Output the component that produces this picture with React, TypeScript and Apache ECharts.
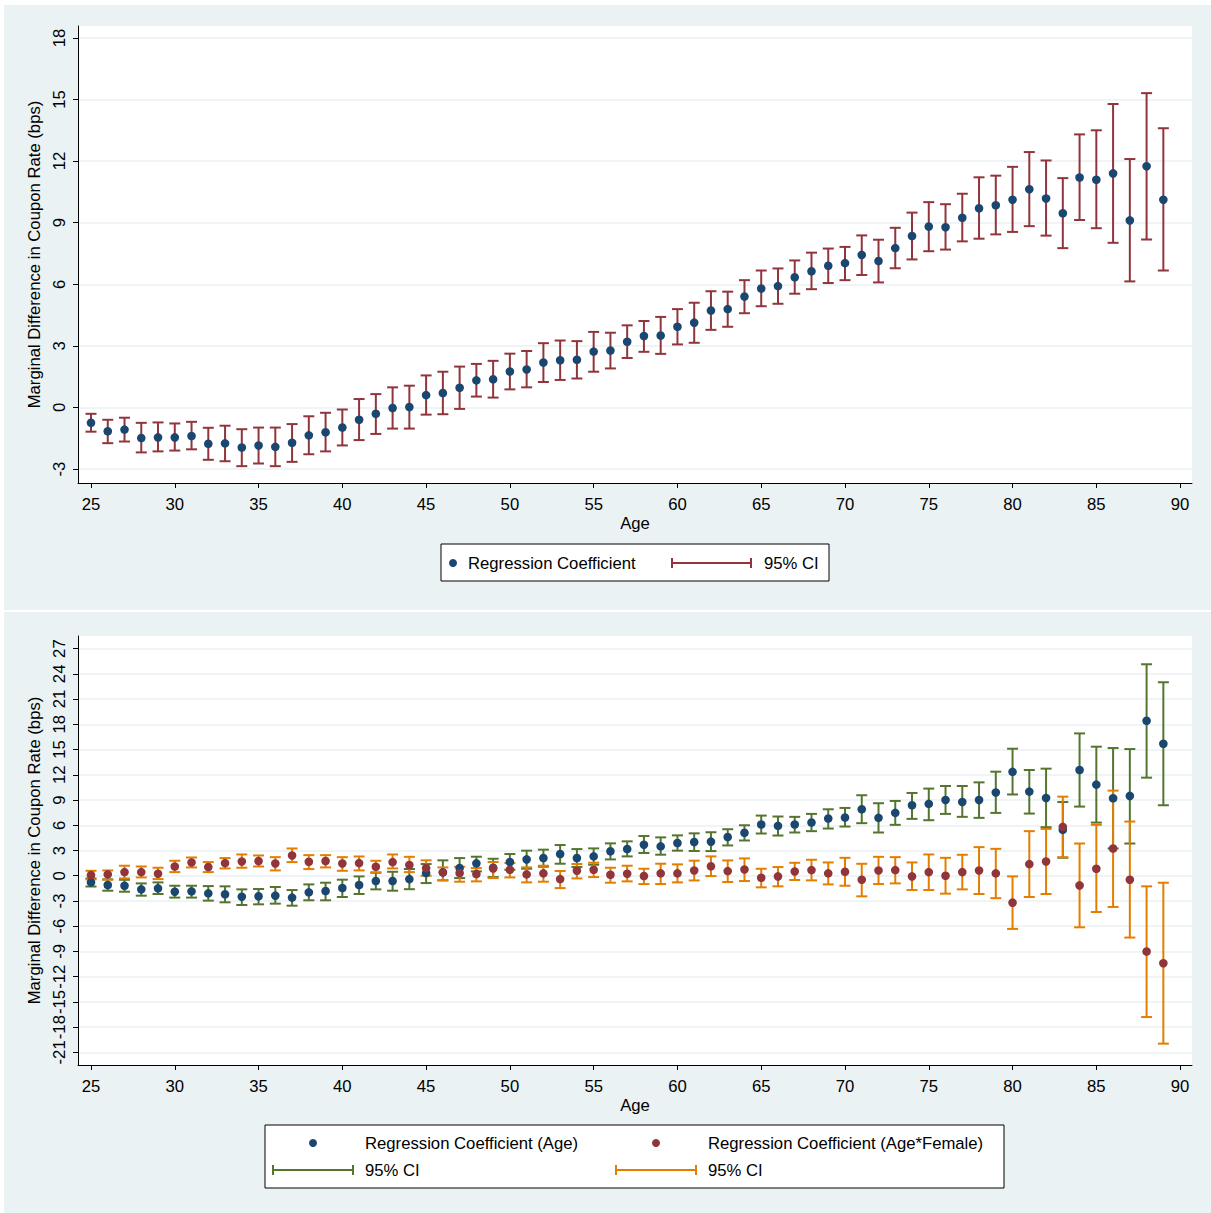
import React, { useEffect, useRef } from "react";
import * as echarts from "echarts";

// ---------- data ----------
const ages = [25, 26, 27, 28, 29, 30, 31, 32, 33, 34, 35, 36, 37, 38, 39, 40, 41, 42, 43, 44, 45, 46, 47, 48, 49, 50, 51, 52, 53, 54, 55, 56, 57, 58, 59, 60, 61, 62, 63, 64, 65, 66, 67, 68, 69, 70, 71, 72, 73, 74, 75, 76, 77, 78, 79, 80, 81, 82, 83, 84, 85, 86, 87, 88, 89];

// Top panel: Regression Coefficient and 95% CI
const topCoef = [-0.75, -1.16, -1.08, -1.49, -1.46, -1.46, -1.39, -1.77, -1.75, -1.95, -1.85, -1.92, -1.72, -1.36, -1.21, -0.98, -0.6, -0.31, -0.03, 0.02, 0.6, 0.7, 0.96, 1.32, 1.37, 1.75, 1.85, 2.19, 2.3, 2.32, 2.72, 2.77, 3.2, 3.48, 3.5, 3.93, 4.13, 4.72, 4.79, 5.4, 5.79, 5.91, 6.34, 6.63, 6.9, 7.03, 7.43, 7.13, 7.76, 8.35, 8.81, 8.78, 9.24, 9.7, 9.85, 10.12, 10.63, 10.18, 9.46, 11.2, 11.09, 11.4, 9.11, 11.75, 10.12];
const topHi = [-0.31, -0.6, -0.5, -0.75, -0.73, -0.78, -0.7, -0.99, -0.89, -1.06, -0.98, -0.98, -0.81, -0.43, -0.26, -0.1, 0.41, 0.65, 0.98, 1.06, 1.56, 1.74, 1.99, 2.12, 2.27, 2.62, 2.75, 3.13, 3.26, 3.23, 3.68, 3.64, 4.0, 4.21, 4.41, 4.79, 5.1, 5.66, 5.64, 6.2, 6.67, 6.77, 7.16, 7.54, 7.74, 7.82, 8.38, 8.17, 8.75, 9.49, 10.0, 9.9, 10.41, 11.21, 11.29, 11.72, 12.44, 12.03, 11.17, 13.3, 13.5, 14.78, 12.1, 15.31, 13.6];
const topLo = [-1.18, -1.74, -1.66, -2.19, -2.14, -2.1, -2.04, -2.55, -2.62, -2.86, -2.73, -2.86, -2.65, -2.28, -2.14, -1.85, -1.59, -1.29, -1.03, -1.03, -0.35, -0.33, -0.07, 0.53, 0.48, 0.88, 0.98, 1.24, 1.34, 1.41, 1.74, 1.9, 2.41, 2.71, 2.61, 3.07, 3.15, 3.78, 3.93, 4.59, 4.93, 5.05, 5.54, 5.76, 6.06, 6.2, 6.45, 6.09, 6.78, 7.21, 7.61, 7.69, 8.09, 8.22, 8.43, 8.55, 8.83, 8.37, 7.76, 9.13, 8.73, 8.02, 6.14, 8.18, 6.67];

// Bottom panel: Age
const ageCoef = [-0.79, -1.1, -1.19, -1.62, -1.5, -1.9, -1.86, -2.1, -2.21, -2.49, -2.45, -2.37, -2.6, -1.98, -1.82, -1.46, -1.1, -0.63, -0.63, -0.4, 0.32, 0.4, 0.91, 1.47, 0.95, 1.63, 1.94, 2.1, 2.58, 2.1, 2.3, 2.9, 3.17, 3.69, 3.49, 3.89, 4.0, 4.05, 4.6, 5.1, 6.09, 5.93, 6.09, 6.32, 6.8, 6.92, 7.9, 6.88, 7.47, 8.38, 8.54, 9.01, 8.77, 9.01, 9.9, 12.35, 10.0, 9.25, 5.45, 12.57, 10.83, 9.21, 9.49, 18.42, 15.69];
const ageHi = [-0.32, -0.43, -0.48, -0.91, -0.79, -1.19, -1.19, -1.23, -1.26, -1.62, -1.58, -1.34, -1.7, -1.03, -0.83, -0.47, -0.08, 0.36, 0.47, 0.8, 1.39, 1.83, 2.1, 2.26, 2.02, 2.58, 2.98, 3.1, 3.65, 3.17, 3.25, 3.85, 4.09, 4.72, 4.56, 4.8, 5.04, 5.17, 5.53, 6.0, 7.15, 7.04, 7.0, 7.35, 7.9, 8.06, 9.57, 8.62, 8.89, 9.84, 10.36, 10.67, 10.67, 11.1, 12.37, 15.1, 12.57, 12.73, 8.76, 16.92, 15.34, 15.18, 15.06, 25.14, 23.0];
const ageLo = [-1.28, -1.78, -1.9, -2.37, -2.17, -2.6, -2.6, -2.96, -3.16, -3.48, -3.4, -3.32, -3.56, -2.92, -2.92, -2.53, -2.17, -1.62, -1.78, -1.6, -0.87, -0.56, -0.28, 0.52, -0.16, 0.71, 0.83, 1.07, 1.43, 1.03, 1.31, 1.94, 2.3, 2.7, 2.5, 2.98, 2.94, 2.93, 3.6, 4.19, 5.02, 4.78, 5.14, 5.3, 5.61, 5.85, 6.25, 5.14, 6.05, 6.76, 6.6, 7.35, 7.0, 6.88, 7.47, 9.66, 7.39, 5.77, 2.14, 8.22, 6.32, 3.24, 3.83, 11.66, 8.38];

// Bottom panel: Age*Female
const femCoef = [0.08, 0.16, 0.43, 0.43, 0.24, 1.1, 1.58, 1.03, 1.5, 1.7, 1.74, 1.46, 2.41, 1.66, 1.74, 1.46, 1.5, 1.07, 1.62, 1.28, 0.91, 0.4, 0.32, 0.2, 0.87, 0.71, 0.16, 0.28, -0.4, 0.6, 0.71, 0.12, 0.24, -0.04, 0.28, 0.28, 0.63, 1.12, 0.55, 0.75, -0.24, -0.08, 0.51, 0.67, 0.28, 0.47, -0.47, 0.63, 0.67, -0.08, 0.43, 0.0, 0.43, 0.63, 0.28, -3.2, 1.38, 1.7, 5.81, -1.15, 0.83, 3.24, -0.47, -9.01, -10.4];
const femHi = [0.59, 0.63, 1.19, 1.1, 0.95, 1.78, 2.17, 1.62, 2.1, 2.53, 2.41, 2.21, 3.24, 2.45, 2.45, 2.21, 2.29, 1.78, 2.53, 2.25, 1.83, 0.99, 1.07, 0.91, 1.63, 1.51, 0.99, 1.19, 0.56, 1.39, 1.55, 0.95, 1.19, 0.83, 1.43, 1.35, 1.79, 2.3, 1.82, 2.06, 0.83, 1.03, 1.54, 1.9, 1.58, 2.13, 1.42, 2.25, 2.21, 1.58, 2.53, 2.13, 2.49, 3.4, 3.2, -0.08, 5.3, 5.57, 9.4, 3.83, 6.05, 10.12, 6.44, -1.26, -0.83];
const femLo = [-0.43, -0.47, -0.32, -0.2, -0.4, 0.43, 0.99, 0.43, 0.87, 0.95, 1.1, 0.63, 1.62, 0.79, 0.99, 0.59, 0.63, 0.4, 0.87, 0.43, 0.0, -0.52, -0.71, -0.67, -0.28, -0.2, -0.79, -0.71, -1.47, -0.32, -0.16, -0.83, -0.67, -0.99, -0.99, -0.79, -0.56, -0.04, -0.75, -0.63, -1.38, -1.26, -0.51, -0.55, -1.03, -1.19, -2.45, -0.99, -0.91, -1.7, -1.7, -2.13, -1.62, -2.17, -2.67, -6.32, -2.53, -2.17, 2.2, -6.13, -4.31, -3.71, -7.35, -16.8, -19.96];

// Tick labels
const xTicks = [25, 30, 35, 40, 45, 50, 55, 60, 65, 70, 75, 80, 85, 90];
const topYTicks = [-3, 0, 3, 6, 9, 12, 15, 18];
const bottomYTicks = [-21, -18, -15, -12, -9, -6, -3, 0, 3, 6, 9, 12, 15, 18, 21, 24, 27];

// ---------- style ----------
const FONT = '"Liberation Sans", Arial, sans-serif';
const FS = 16.7;
const NAVY = "#1a476f";
const MAROON = "#90353b";
const GREEN = "#55752f";
const ORANGE = "#e37e00";
const BG = "#eaf2f3";
const Y_TITLE = "Marginal Difference in Coupon Rate (bps)";
const DOT = 8.6;

function errorBar(color: string) {
  return (params: any, api: any) => {
    const x = api.value(0);
    const lo = api.coord([x, api.value(1)]);
    const hi = api.coord([x, api.value(2)]);
    const hw = 5.5;
    const style = { stroke: color, lineWidth: 2 };
    return {
      type: "group",
      children: [
        { type: "line", shape: { x1: lo[0], y1: hi[1], x2: lo[0], y2: lo[1] }, style },
        { type: "line", shape: { x1: lo[0] - hw, y1: hi[1], x2: lo[0] + hw, y2: hi[1] }, style },
        { type: "line", shape: { x1: lo[0] - hw, y1: lo[1], x2: lo[0] + hw, y2: lo[1] }, style },
      ],
    };
  };
}

function xAxisDef(gridIndex: number) {
  return {
    type: "value",
    gridIndex,
    min: 24.224,
    max: 90.71,
    name: "Age",
    nameLocation: "middle",
    nameGap: 32,
    nameTextStyle: { fontSize: FS, fontFamily: FONT, color: "#000" },
    axisLine: { show: true, onZero: false, lineStyle: { color: "#000", width: 1 } },
    axisTick: { show: true, length: 5, customValues: xTicks, lineStyle: { color: "#000", width: 1 } },
    axisLabel: { customValues: xTicks, fontSize: FS, fontFamily: FONT, color: "#000", margin: 13 },
    splitLine: { show: false },
  };
}

function yAxisDef(gridIndex: number, min: number, max: number, ticks: number[]) {
  return {
    type: "value",
    gridIndex,
    min,
    max,
    name: Y_TITLE,
    nameLocation: "middle",
    nameRotate: 90,
    nameGap: 28,
    nameTextStyle: { fontSize: FS, fontFamily: FONT, color: "#000" },
    axisLine: { show: true, onZero: false, lineStyle: { color: "#000", width: 1 } },
    axisTick: { show: true, length: 5, customValues: ticks, lineStyle: { color: "#000", width: 1 } },
    axisLabel: { customValues: ticks, rotate: 90, fontSize: FS, fontFamily: FONT, color: "#000", margin: 10 },
    splitLine: { show: true, lineStyle: { color: BG, width: 1.5 } },
  };
}

function ciIcon(x1: number, x2: number, y: number, color: string) {
  const style = { stroke: color, lineWidth: 2 };
  return [
    { type: "line", z: 20, shape: { x1, y1: y, x2, y2: y }, style },
    { type: "line", z: 20, shape: { x1, y1: y - 5, x2: x1, y2: y + 5 }, style },
    { type: "line", z: 20, shape: { x1: x2, y1: y - 5, x2, y2: y + 5 }, style },
  ];
}

function label(text: string, x: number, y: number) {
  return {
    type: "text",
    z: 20,
    x,
    y,
    style: { text, fontSize: FS, fontFamily: FONT, fill: "#000", verticalAlign: "middle", align: "left" },
  };
}

export default function App() {
  const ref = useRef<HTMLDivElement>(null);
  useEffect(() => {
    if (!ref.current) return;
    const chart = echarts.init(ref.current, undefined, { renderer: "svg" });
    const option: any = {
      animation: false,
      backgroundColor: "#ffffff",
      textStyle: { fontFamily: FONT },
      grid: [
        { left: 78, top: 26, width: 1114, height: 457, show: true, backgroundColor: "#ffffff", borderWidth: 0 },
        { left: 78, top: 636, width: 1114, height: 429, show: true, backgroundColor: "#ffffff", borderWidth: 0 },
      ],
      xAxis: [xAxisDef(0), xAxisDef(1)],
      yAxis: [yAxisDef(0, -3.68, 18.58, topYTicks), yAxisDef(1, -22.5, 28.5, bottomYTicks)],
      graphic: [
        { type: "rect", z: -10, shape: { x: 4, y: 5, width: 1207, height: 605 }, style: { fill: BG } },
        { type: "rect", z: -10, shape: { x: 4, y: 612, width: 1207, height: 601 }, style: { fill: BG } },
        // top legend
        { type: "rect", z: 19, shape: { x: 441, y: 544, width: 388, height: 37 }, style: { fill: "#fff", stroke: "#000", lineWidth: 1 } },
        { type: "circle", z: 20, shape: { cx: 453, cy: 563, r: 4 }, style: { fill: NAVY } },
        label("Regression Coefficient", 468, 563),
        ...ciIcon(672, 751, 563, MAROON),
        label("95% CI", 764, 563),
        // bottom legend
        { type: "rect", z: 19, shape: { x: 265, y: 1125, width: 739, height: 63 }, style: { fill: "#fff", stroke: "#000", lineWidth: 1 } },
        { type: "circle", z: 20, shape: { cx: 313, cy: 1143, r: 4 }, style: { fill: NAVY } },
        label("Regression Coefficient (Age)", 365, 1143),
        { type: "circle", z: 20, shape: { cx: 656, cy: 1143, r: 4 }, style: { fill: MAROON } },
        label("Regression Coefficient (Age*Female)", 708, 1143),
        ...ciIcon(273, 353, 1170, GREEN),
        label("95% CI", 365, 1170),
        ...ciIcon(616, 696, 1170, ORANGE),
        label("95% CI", 708, 1170),
      ],
      series: [
        {
          name: "95% CI",
          type: "custom",
          xAxisIndex: 0,
          yAxisIndex: 0,
          renderItem: errorBar(MAROON),
          encode: { x: 0, y: [1, 2] },
          data: ages.map((a, i) => [a, topLo[i], topHi[i]]),
          silent: true,
        },
        {
          name: "Regression Coefficient",
          type: "scatter",
          xAxisIndex: 0,
          yAxisIndex: 0,
          symbol: "circle",
          symbolSize: DOT,
          itemStyle: { color: NAVY, opacity: 1 },
          data: ages.map((a, i) => [a, topCoef[i]]),
          silent: true,
        },
        {
          name: "95% CI (Age)",
          type: "custom",
          xAxisIndex: 1,
          yAxisIndex: 1,
          renderItem: errorBar(GREEN),
          encode: { x: 0, y: [1, 2] },
          data: ages.map((a, i) => [a, ageLo[i], ageHi[i]]),
          silent: true,
        },
        {
          name: "95% CI (Age*Female)",
          type: "custom",
          xAxisIndex: 1,
          yAxisIndex: 1,
          renderItem: errorBar(ORANGE),
          encode: { x: 0, y: [1, 2] },
          data: ages.map((a, i) => [a, femLo[i], femHi[i]]),
          silent: true,
        },
        {
          name: "Regression Coefficient (Age)",
          type: "scatter",
          xAxisIndex: 1,
          yAxisIndex: 1,
          symbol: "circle",
          symbolSize: DOT,
          itemStyle: { color: NAVY, opacity: 1 },
          data: ages.map((a, i) => [a, ageCoef[i]]),
          silent: true,
        },
        {
          name: "Regression Coefficient (Age*Female)",
          type: "scatter",
          xAxisIndex: 1,
          yAxisIndex: 1,
          symbol: "circle",
          symbolSize: DOT,
          itemStyle: { color: MAROON, opacity: 1 },
          data: ages.map((a, i) => [a, femCoef[i]]),
          silent: true,
        },
      ],
    };
    chart.setOption(option);
    return () => chart.dispose();
  }, []);
  return (
    <div
      ref={ref}
      style={{ position: "absolute", left: 0, top: 0, width: 1211, height: 1213 }}
    />
  );
}
